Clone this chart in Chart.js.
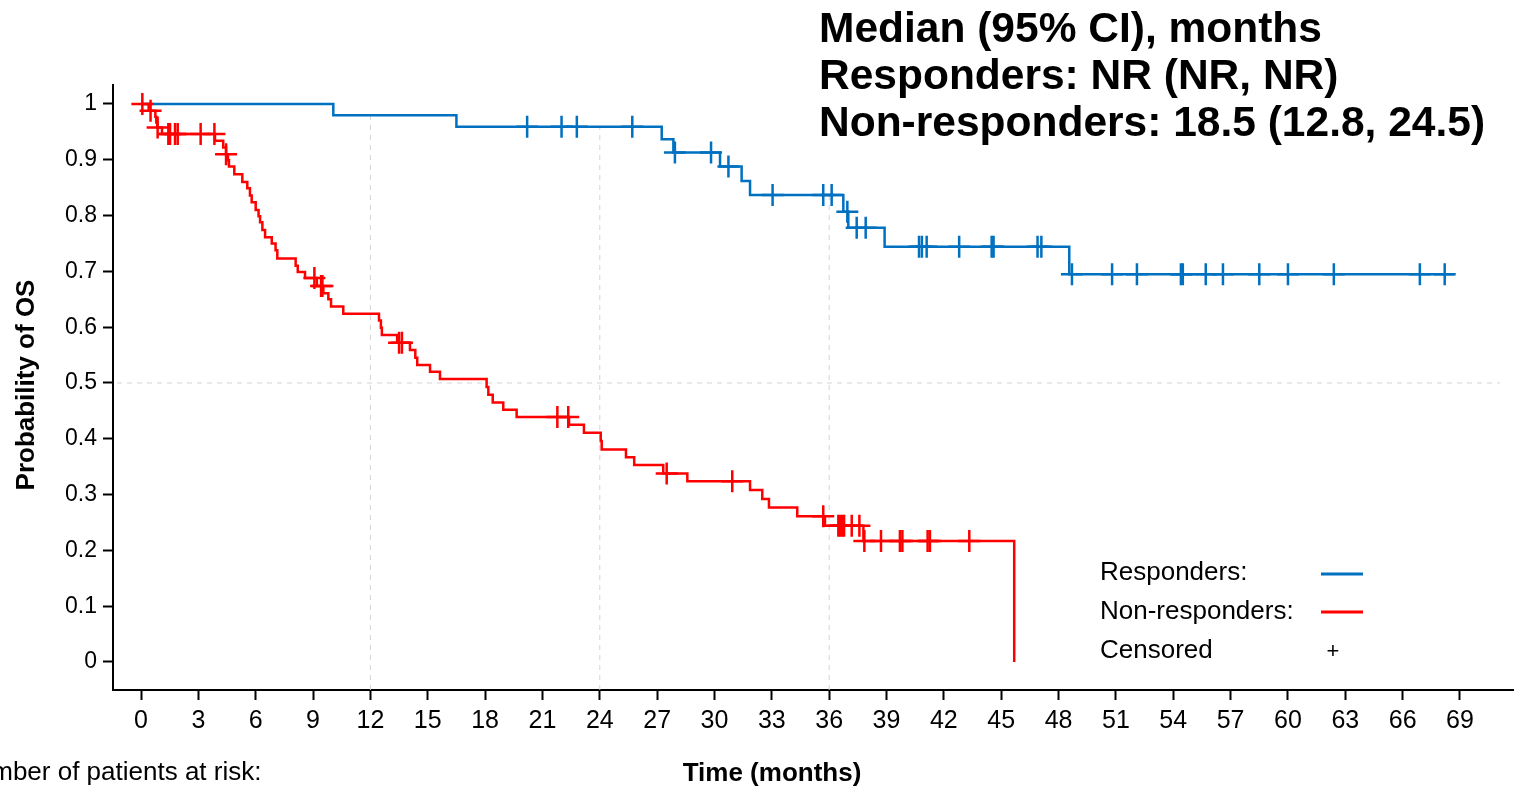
<!DOCTYPE html>
<html>
<head>
<title>Overall survival: responders vs non-responders</title>
<script src="https://cdn.jsdelivr.net/npm/chart.js"></script>
<style>
  html, body { margin: 0; background: #fff; overflow: hidden; }
  #km { display: block; }
</style>
</head>
<body>
<canvas id="km" width="1514" height="786"></canvas>
<script>
// Kaplan-Meier steps: time in months, survival after the step
const respTimes = [0, 10.06, 16.5, 27.24, 27.85, 30.29, 31.42, 31.86, 36.74, 37.0, 38.9, 48.56, 68.7];
const respSurv  = [1, 0.980, 0.959, 0.937, 0.913, 0.888, 0.862, 0.837, 0.807, 0.778, 0.744, 0.695, 0.695];
const respCensored = [20.2, 22.0, 22.8, 25.7, 27.93, 29.82, 30.73, 33.04, 35.69, 36.13, 36.95, 37.44, 37.91,
  40.7, 40.85, 41.1, 42.8, 44.5, 44.6, 46.9, 47.1, 48.7, 50.8, 52.1, 54.4, 54.5, 55.7, 56.6, 58.5, 60.0,
  62.4, 66.9, 68.2];

const nonRespTimes = [0, 0.4, 0.75, 0.8, 0.85, 1.1, 3.87, 4.3, 4.45, 4.55, 4.6, 4.88, 5.30, 5.56, 5.70, 5.79,
  6.0, 6.15, 6.23, 6.35, 6.49, 6.84, 7.04, 7.13, 8.09, 8.2, 8.58, 9.2, 9.54, 9.8, 9.94, 10.58, 12.45, 12.55,
  12.6, 13.4, 14.07, 14.35, 14.45, 15.12, 15.64, 18.08, 18.17, 18.4, 18.95, 19.65, 22.39, 23.17, 24.05, 24.1,
  25.37, 25.8, 27.32, 28.58, 31.86, 32.5, 32.85, 34.33, 35.78, 37.79, 45.68];
const nonRespSurv = [1, 0.988, 0.977, 0.967, 0.958, 0.946, 0.934, 0.922, 0.910, 0.899, 0.888, 0.874, 0.860,
  0.849, 0.836, 0.824, 0.810, 0.799, 0.788, 0.774, 0.761, 0.750, 0.738, 0.723, 0.710, 0.699, 0.688, 0.674,
  0.661, 0.650, 0.637, 0.624, 0.612, 0.599, 0.586, 0.572, 0.559, 0.545, 0.532, 0.520, 0.507, 0.493, 0.479,
  0.465, 0.452, 0.439, 0.425, 0.411, 0.396, 0.381, 0.367, 0.353, 0.338, 0.324, 0.308, 0.292, 0.277, 0.261,
  0.244, 0.217, 0];
const nonRespCensored = [0.07, 0.5, 0.87, 1.43, 1.52, 1.78, 1.92, 3.12, 3.84, 4.45, 9.07, 9.42, 9.49, 13.5,
  13.65, 21.78, 22.35, 27.5, 30.93, 35.69, 36.48, 36.58, 36.68, 36.78, 37.18, 37.58, 37.84, 38.71, 39.7, 39.83,
  41.15, 41.27, 43.33];

const xTickValues = [0, 3, 6, 9, 12, 15, 18, 21, 24, 27, 30, 33, 36, 39, 42, 45, 48, 51, 54, 57, 60, 63, 66, 69];
const yTickValues = [0, 0.1, 0.2, 0.3, 0.4, 0.5, 0.6, 0.7, 0.8, 0.9, 1];
const yTickLabels = ['0', '0.1', '0.2', '0.3', '0.4', '0.5', '0.6', '0.7', '0.8', '0.9', '1'];
const landmarkMonths = [12, 24, 36];
const titleLines = ['Median (95% CI), months', 'Responders: NR (NR, NR)', 'Non-responders: 18.5 (12.8, 24.5)'];

const BLUE = '#0070C0';
const RED = '#FF0000';
const FONT = "'Liberation Sans', Arial, sans-serif";

function survAt(times, surv, t) {
  let s = surv[0];
  for (let i = 0; i < times.length; i++) {
    if (times[i] <= t) s = surv[i]; else break;
  }
  return s;
}

function curve(times, surv) {
  return times.map((t, i) => ({x: t, y: surv[i]}));
}

function censorPoints(cens, times, surv) {
  return cens.map(t => ({x: t, y: survAt(times, surv, t)}));
}

const decorations = {
  id: 'decorations',
  beforeDatasetsDraw(chart) {
    const {ctx, chartArea, scales: {x, y}} = chart;
    ctx.save();
    ctx.strokeStyle = '#d4d4d4';
    ctx.lineWidth = 1;
    ctx.setLineDash([5, 5]);
    const yMid = y.getPixelForValue(0.5);
    ctx.beginPath();
    ctx.moveTo(chartArea.left + 4, yMid);
    ctx.lineTo(chartArea.right - 14, yMid);
    ctx.stroke();
    landmarkMonths.forEach(m => {
      const px = x.getPixelForValue(m);
      const top = y.getPixelForValue(survAt(respTimes, respSurv, m));
      ctx.beginPath();
      ctx.moveTo(px, chartArea.bottom);
      ctx.lineTo(px, top);
      ctx.stroke();
    });
    ctx.restore();
  },
  afterDraw(chart) {
    const ctx = chart.ctx;
    ctx.save();
    ctx.fillStyle = '#000';
    ctx.textAlign = 'left';
    ctx.textBaseline = 'alphabetic';

    // median summary
    ctx.font = 'bold 42.5px ' + FONT;
    titleLines.forEach((line, i) => ctx.fillText(line, 819, 42 + i * 47));

    // axis titles
    ctx.font = 'bold 26px ' + FONT;
    ctx.textAlign = 'center';
    ctx.fillText('Time (months)', 772, 781);
    ctx.save();
    ctx.translate(34, 385);
    ctx.rotate(-Math.PI / 2);
    ctx.fillText('Probability of OS', 0, 0);
    ctx.restore();

    // at-risk caption (cut by the left edge in the figure)
    ctx.textAlign = 'left';
    ctx.font = '26px ' + FONT;
    ctx.fillText('Number of patients at risk:', -42, 780);

    // legend
    ctx.fillText('Responders:', 1100, 580);
    ctx.fillText('Non-responders:', 1100, 619);
    ctx.fillText('Censored', 1100, 658);
    ctx.lineWidth = 3;
    ctx.strokeStyle = BLUE;
    ctx.beginPath(); ctx.moveTo(1321, 574); ctx.lineTo(1363, 574); ctx.stroke();
    ctx.strokeStyle = RED;
    ctx.beginPath(); ctx.moveTo(1321, 612); ctx.lineTo(1363, 612); ctx.stroke();
    ctx.font = '22px ' + FONT;
    ctx.textAlign = 'center';
    ctx.textBaseline = 'middle';
    ctx.fillText('+', 1333, 652);
    ctx.restore();
  }
};

new Chart(document.getElementById('km'), {
  type: 'line',
  data: {
    datasets: [
      {
        data: curve(nonRespTimes, nonRespSurv),
        borderColor: RED, borderWidth: 2.5, stepped: 'before', pointRadius: 0, fill: false
      },
      {
        type: 'scatter',
        data: censorPoints(nonRespCensored, nonRespTimes, nonRespSurv),
        borderColor: RED, backgroundColor: RED, pointStyle: 'cross', pointRadius: 11, borderWidth: 2.5,
        showLine: false
      },
      {
        data: curve(respTimes, respSurv),
        borderColor: BLUE, borderWidth: 2.5, stepped: 'before', pointRadius: 0, fill: false
      },
      {
        type: 'scatter',
        data: censorPoints(respCensored, respTimes, respSurv),
        borderColor: BLUE, backgroundColor: BLUE, pointStyle: 'cross', pointRadius: 11, borderWidth: 2.5,
        showLine: false
      }
    ]
  },
  options: {
    responsive: false,
    animation: false,
    layout: {autoPadding: false, padding: {top: 85, left: 0, right: 0, bottom: 0}},
    plugins: {legend: {display: false}, tooltip: {enabled: false}},
    scales: {
      x: {
        type: 'linear',
        min: -1.465,
        max: 71.825,
        afterBuildTicks: s => { s.ticks = xTickValues.map(v => ({value: v})); },
        afterFit: s => { s.height = 96; s.paddingLeft = 0; s.paddingRight = 0; },
        ticks: {font: {family: FONT, size: 25}, color: '#000', padding: 6, maxRotation: 0, autoSkip: false,
                callback: v => String(v)},
        grid: {drawOnChartArea: false, drawTicks: true, tickLength: 10, tickColor: '#000', tickWidth: 2},
        border: {color: '#000', width: 2}
      },
      y: {
        type: 'linear',
        min: -0.0502,
        max: 1.034,
        afterBuildTicks: s => { s.ticks = yTickValues.map(v => ({value: v})); },
        afterFit: s => { s.width = 113; s.paddingTop = 0; s.paddingBottom = 0; },
        ticks: {font: {family: FONT, size: 23}, color: '#000', padding: 6, autoSkip: false,
                callback: (v, i) => yTickLabels[i]},
        grid: {drawOnChartArea: false, drawTicks: true, tickLength: 10, tickColor: '#000', tickWidth: 2},
        border: {color: '#000', width: 2}
      }
    }
  },
  plugins: [decorations]
});
</script>
</body>
</html>
